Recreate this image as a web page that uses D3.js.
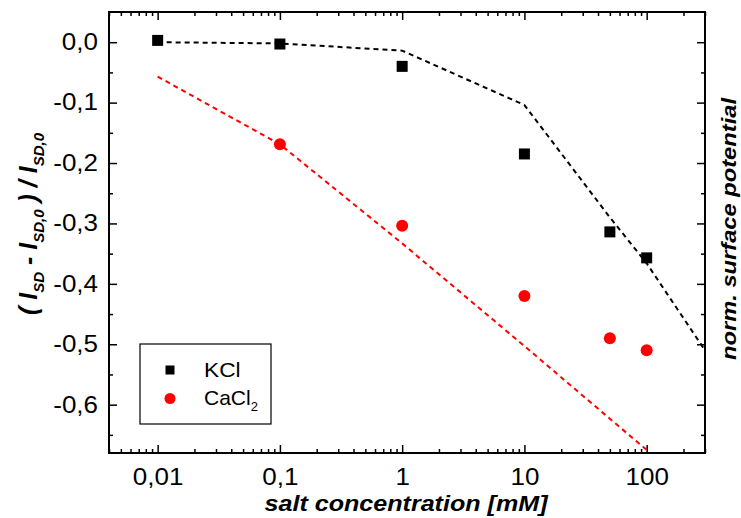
<!DOCTYPE html>
<html>
<head>
<meta charset="utf-8">
<script src="https://cdn.jsdelivr.net/npm/d3@7"></script>
<style>
  body { margin: 0; background: white; }
  text { font-family: "Liberation Sans", Arial, sans-serif; }
</style>
</head>
<body>
<div id="canvas"></div>
<script>
// DATA
const xTicks = [0.01, 0.1, 1, 10, 100];
const xTickLabels = ["0,01", "0,1", "1", "10", "100"];
const yTicks = [0, -0.1, -0.2, -0.3, -0.4, -0.5, -0.6];
const yTickLabels = ["0,0", "-0,1", "-0,2", "-0,3", "-0,4", "-0,5", "-0,6"];

const kclConc = [0.01, 0.1, 1, 10, 50, 100];
const kclValues = [0.003, -0.003, -0.040, -0.185, -0.314, -0.357];
const cacl2Conc = [0.1, 1, 10, 50, 100];
const cacl2Values = [-0.169, -0.304, -0.420, -0.490, -0.510];

// model curves (dashed)
const kclModelConc = [0.01, 0.1, 1, 10, 50, 100, 300];
const kclModelValues = [0, -0.002, -0.014, -0.104, -0.29, -0.366, -0.51];
const cacl2ModelConc = [0.01, 0.1, 1, 10, 100];
const cacl2ModelValues = [-0.057, -0.169, -0.333, -0.503, -0.675];

// DIMENSIONS
const width = 741;
const height = 518;
const margin = { top: 12, right: 36, bottom: 65, left: 109 };
const plot_width = width - margin.left - margin.right;
const plot_height = height - margin.top - margin.bottom;

const svg = d3.select("#canvas")
  .append("svg")
  .attr("width", width)
  .attr("height", height);

const plot = svg.append("g")
  .attr("transform", `translate(${margin.left},${margin.top})`);

// SCALES
const x = d3.scaleLog().domain([0.004, 300]).range([0, plot_width]);
const y = d3.scaleLinear().domain([-0.68, 0.05]).range([plot_height, 0]);

const xMinor = x.ticks().filter(d => !xTicks.includes(d));
const yMinor = d3.range(-0.65, 0.05, 0.1).map(d => +d.toFixed(2));

// the source font is a bit wider than Liberation Sans -> stretch glyphs
function widen(sel, k) {
  sel.each(function () {
    const w = this.getComputedTextLength();
    d3.select(this).attr("textLength", w * k).attr("lengthAdjust", "spacingAndGlyphs");
  });
}

// AXES
function styleAxis(g) {
  g.select(".domain").remove();
  g.selectAll("line").attr("stroke", "#000").attr("stroke-width", 1.5);
  g.selectAll("text")
    .attr("fill", "#000")
    .style("font-size", "23px");
}

// bottom
plot.append("g")
  .attr("transform", `translate(0,${plot_height})`)
  .call(d3.axisBottom(x).tickValues(xTicks).tickSize(-8).tickPadding(16)
    .tickFormat((d, i) => xTickLabels[i]))
  .call(styleAxis)
  .call(g => widen(g.selectAll("text"), 1.13));
plot.append("g")
  .attr("transform", `translate(0,${plot_height})`)
  .call(d3.axisBottom(x).tickValues(xMinor).tickSize(-4).tickFormat(""))
  .call(styleAxis);
// top
plot.append("g")
  .call(d3.axisTop(x).tickValues(xTicks).tickSize(-8).tickFormat(""))
  .call(styleAxis);
plot.append("g")
  .call(d3.axisTop(x).tickValues(xMinor).tickSize(-4).tickFormat(""))
  .call(styleAxis);
// left
plot.append("g")
  .call(d3.axisLeft(y).tickValues(yTicks).tickSize(-8).tickPadding(11)
    .tickFormat((d, i) => yTickLabels[i]))
  .call(styleAxis)
  .call(g => widen(g.selectAll("text"), 1.13));
plot.append("g")
  .call(d3.axisLeft(y).tickValues(yMinor).tickSize(-4).tickFormat(""))
  .call(styleAxis);
// right
plot.append("g")
  .attr("transform", `translate(${plot_width},0)`)
  .call(d3.axisRight(y).tickValues(yTicks).tickSize(-8).tickFormat(""))
  .call(styleAxis);
plot.append("g")
  .attr("transform", `translate(${plot_width},0)`)
  .call(d3.axisRight(y).tickValues(yMinor).tickSize(-4).tickFormat(""))
  .call(styleAxis);

// frame
plot.append("rect")
  .attr("width", plot_width)
  .attr("height", plot_height)
  .attr("fill", "none")
  .attr("stroke", "#000")
  .attr("stroke-width", 2);

// clip
svg.append("clipPath").attr("id", "clip")
  .append("rect").attr("width", plot_width).attr("height", plot_height);

const line = d3.line().x(d => x(d[0])).y(d => y(d[1]));

plot.append("path")
  .datum(kclModelConc.map((c, i) => [c, kclModelValues[i]]))
  .attr("clip-path", "url(#clip)")
  .attr("d", line)
  .attr("fill", "none")
  .attr("stroke", "#000")
  .attr("stroke-width", 2)
  .attr("stroke-dasharray", "5,4");

plot.append("path")
  .datum(cacl2ModelConc.map((c, i) => [c, cacl2ModelValues[i]]))
  .attr("clip-path", "url(#clip)")
  .attr("d", line)
  .attr("fill", "none")
  .attr("stroke", "#ff0000")
  .attr("stroke-width", 2)
  .attr("stroke-dasharray", "5,4");

// POINTS
const sq = 11;
plot.selectAll("rect.kcl")
  .data(kclConc.map((c, i) => [c, kclValues[i]]))
  .join("rect")
  .attr("class", "kcl")
  .attr("x", d => x(d[0]) - sq / 2)
  .attr("y", d => y(d[1]) - sq / 2)
  .attr("width", sq)
  .attr("height", sq)
  .attr("fill", "#000");

plot.selectAll("circle.cacl2")
  .data(cacl2Conc.map((c, i) => [c, cacl2Values[i]]))
  .join("circle")
  .attr("class", "cacl2")
  .attr("cx", d => x(d[0]))
  .attr("cy", d => y(d[1]))
  .attr("r", 6)
  .attr("fill", "#ff0000");

// LEGEND
const legend = svg.append("g").attr("transform", "translate(140,344)");
legend.append("rect")
  .attr("width", 131).attr("height", 80)
  .attr("fill", "white").attr("stroke", "#000").attr("stroke-width", 1.2);
legend.append("rect")
  .attr("x", 25.5).attr("y", 21.5).attr("width", 9).attr("height", 9)
  .attr("fill", "#000");
legend.append("circle")
  .attr("cx", 30).attr("cy", 54.5).attr("r", 5.5)
  .attr("fill", "#ff0000");
legend.append("text")
  .attr("x", 64).attr("y", 33)
  .style("font-size", "21px")
  .text("KCl")
  .call(widen, 1.08);
const cl = legend.append("text")
  .attr("x", 64).attr("y", 61)
  .style("font-size", "21px");
cl.append("tspan").text("CaCl");
cl.append("tspan").attr("dy", 6).style("font-size", "13px").text("2");

// AXIS TITLES
svg.append("text")
  .attr("x", 406)
  .attr("y", 511)
  .attr("text-anchor", "middle")
  .style("font-size", "22px")
  .style("font-weight", "bold")
  .style("font-style", "italic")
  .attr("textLength", 283)
  .attr("lengthAdjust", "spacingAndGlyphs")
  .text("salt concentration [mM]");

svg.append("text")
  .attr("transform", "translate(736,229) rotate(-90)")
  .attr("text-anchor", "middle")
  .style("font-size", "21px")
  .style("font-weight", "bold")
  .style("font-style", "italic")
  .attr("textLength", 262)
  .attr("lengthAdjust", "spacingAndGlyphs")
  .text("norm. surface potential");

const yt = svg.append("text")
  .attr("transform", "translate(37,224) rotate(-90)")
  .attr("text-anchor", "middle")
  .style("font-size", "25px")
  .style("font-weight", "bold")
  .style("font-style", "italic");
const parts = [
  ["( I", false], ["SD", true], [" - I", false], ["SD,0", true],
  [" ) / I", false], ["SD,0", true]
];
parts.forEach(([t, sub], i) => {
  yt.append("tspan")
    .attr("dy", i === 0 ? 0 : (sub ? 7 : -7))
    .style("font-size", sub ? "15px" : "25px")
    .text(t);
});
</script>
</body>
</html>
